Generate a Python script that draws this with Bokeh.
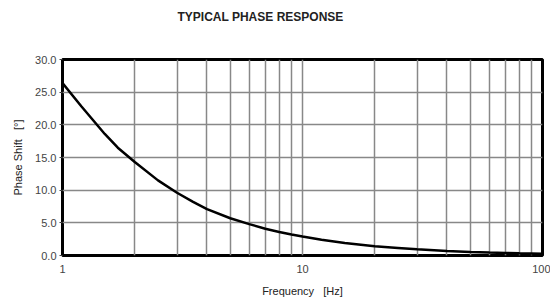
from bokeh.plotting import figure
from bokeh.models import Range1d, FixedTicker, NumeralTickFormatter, Title
from bokeh.embed import file_html
from bokeh.resources import INLINE

# data
freq_hz = [1, 1.2, 1.5, 1.7, 2, 2.5, 3, 3.5, 4, 5, 6, 7, 8, 9, 10, 12, 15, 20, 25,
           30, 40, 50, 60, 70, 80, 100]
phase_deg = [26.4, 22.8, 18.6, 16.5, 14.3, 11.5, 9.6, 8.2, 7.1, 5.7, 4.8, 4.1, 3.6,
             3.2, 2.9, 2.4, 1.9, 1.4, 1.15, 0.95, 0.7, 0.55, 0.45, 0.4, 0.35, 0.28]
x_major = [1, 10, 100]
x_minor = [2, 3, 4, 5, 6, 7, 8, 9, 20, 30, 40, 50, 60, 70, 80, 90]
y_major = [0, 5, 10, 15, 20, 25, 30]

FONT = "Liberation Sans"
SP = "\u00a0\u00a0\u00a0"

p = figure(width=550, height=300, x_axis_type="log",
           x_range=Range1d(1, 100), y_range=Range1d(0, 30),
           output_backend="svg", toolbar_location=None,
           min_border_left=62, min_border_right=8,
           min_border_top=56, min_border_bottom=45,
           title=None)
p.background_fill_color = "white"
p.border_fill_color = "white"
p.outline_line_color = "black"
p.outline_line_width = 3
p.outline_line_alpha = 1

# spacer nearest the frame, then the real title above it
spacer = Title(text="\u00a0", text_font_size="1px", standoff=22)
p.add_layout(spacer, "above")
main_title = Title(text="TYPICAL PHASE RESPONSE", align="left", offset=115,
                   vertical_align="top", standoff=18, text_font=FONT,
                   text_font_size="12px", text_font_style="bold",
                   text_color="#222222")
p.add_layout(main_title, "above")

p.xaxis.ticker = FixedTicker(ticks=x_major, minor_ticks=x_minor)
p.xaxis.formatter = NumeralTickFormatter(format="0")
p.yaxis.ticker = FixedTicker(ticks=y_major)
p.yaxis.formatter = NumeralTickFormatter(format="0.0")

for ax in (p.xaxis[0], p.yaxis[0]):
    ax.axis_line_color = None
    ax.minor_tick_line_color = None
    ax.minor_tick_out = 0
    ax.minor_tick_in = 0
    ax.major_label_text_font = FONT
    ax.major_label_text_font_size = "11px"
    ax.major_label_text_color = "#444444"
    ax.axis_label_text_font = FONT
    ax.axis_label_text_font_size = "11px"
    ax.axis_label_text_font_style = "normal"
    ax.axis_label_text_color = "#222222"

p.xaxis.major_tick_line_color = None
p.xaxis.major_tick_out = 0
p.xaxis.major_tick_in = 0
p.xaxis.major_label_standoff = 9
p.xaxis.axis_label = "Frequency" + SP + "[Hz]"
p.xaxis.axis_label_standoff = 9

p.yaxis.major_tick_line_color = "#444444"
p.yaxis.major_tick_out = 3
p.yaxis.major_tick_in = 0
p.yaxis.major_label_standoff = 3
p.yaxis.axis_label = "Phase Shift" + SP + "[°]"
p.yaxis.axis_label_standoff = 8

p.xgrid.grid_line_color = "#888888"
p.xgrid.grid_line_width = 1.5
p.xgrid.minor_grid_line_color = "#888888"
p.xgrid.minor_grid_line_width = 1.5
p.ygrid.grid_line_color = "#888888"
p.ygrid.grid_line_width = 1.5

p.line(freq_hz, phase_deg, line_color="black", line_width=2.5)

open("out.html", "w").write(file_html(p, INLINE))
